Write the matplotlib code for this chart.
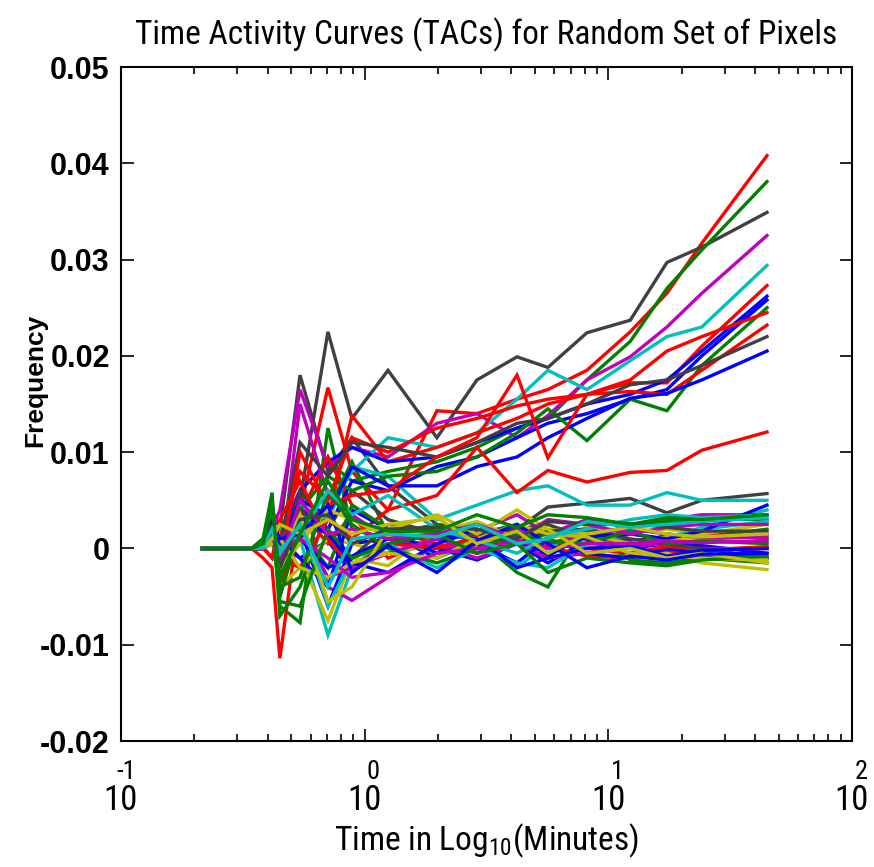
import matplotlib
matplotlib.use("Agg")
import matplotlib.pyplot as plt
from matplotlib import font_manager
from matplotlib.ticker import FixedLocator, LogLocator, NullFormatter

def pick(fams):
    for f in fams:
        try:
            font_manager.findfont(f, fallback_to_default=False)
            return f
        except Exception:
            pass
    return "DejaVu Sans"

NARROW = pick(["Liberation Sans Narrow", "Roboto Condensed", "DejaVu Sans Condensed", "Liberation Sans"])
WIDE = pick(["Liberation Sans", "DejaVu Sans"])
plt.rcParams["mathtext.fontset"] = "custom"
plt.rcParams["mathtext.rm"] = NARROW
plt.rcParams["mathtext.it"] = NARROW

# ---------------- data ----------------
time_min = [0.215, 0.280, 0.344, 0.383, 0.417, 0.449, 0.543, 0.707, 0.887, 1.247,
            1.98, 2.89, 4.22, 5.65, 8.17, 12.3, 17.4, 24.2, 44.8]

x_tick_values = [0.1, 1, 10, 100]
x_tick_exponents = ["-1", "0", "1", "2"]
y_tick_values = [-0.02, -0.01, 0.0, 0.01, 0.02, 0.03, 0.04, 0.05]
y_tick_labels = ["-0.02", "-0.01", "0", "0.01", "0.02", "0.03", "0.04", "0.05"]

# lower (flat) group
tac_l01 = [0, 0, 0, 0.0002, 0.0029, 0.0005, -0.0010, 0.0008, -0.0025, 0.0015, -0.0010, 0.0008, 0.0012, -0.0008, 0.0015, 0.0000, 0.0005, 0.0003, -0.0005]
tac_l02 = [0, 0, 0, 0.0010, 0.0058, -0.0060, -0.0077, 0.0125, 0.0020, 0.0010, -0.0005, 0.0010, -0.0025, -0.0040, 0.0025, 0.0000, 0.0015, 0.0012, 0.0020]
tac_l03 = [0, 0, 0, -0.0010, -0.0020, -0.0114, 0.0040, 0.0005, 0.0035, -0.0010, 0.0010, 0.0000, 0.0020, 0.0005, 0.0010, 0.0008, 0.0012, 0.0015, 0.0010]
tac_l04 = [0, 0, 0, 0.0003, 0.0020, -0.0030, 0.0010, -0.0090, -0.0020, 0.0012, -0.0005, 0.0015, -0.0020, 0.0005, 0.0000, 0.0015, 0.0010, 0.0022, 0.0040]
tac_l05 = [0, 0, 0, 0.0002, -0.0010, 0.0020, 0.0060, -0.0040, -0.0054, -0.0030, 0.0005, 0.0018, 0.0035, 0.0015, 0.0030, 0.0025, 0.0030, 0.0035, 0.0035]
tac_l06 = [0, 0, 0, 0.0001, 0.0025, 0.0015, -0.0010, -0.0075, -0.0010, -0.0018, 0.0020, 0.0010, 0.0005, 0.0010, 0.0022, 0.0018, 0.0020, 0.0015, 0.0025]
tac_l07 = [0, 0, 0, 0.0003, 0.0040, 0.0020, 0.0180, 0.0080, 0.0115, 0.0065, 0.0025, 0.0018, 0.0020, 0.0043, 0.0047, 0.0052, 0.0037, 0.0050, 0.0057]
tac_l08 = [0, 0, 0, 0.0001, 0.0015, 0.0000, 0.0020, -0.0060, 0.0005, 0.0010, 0.0000, -0.0012, 0.0005, -0.0015, 0.0008, -0.0005, -0.0003, -0.0008, -0.0010]
tac_l09 = [0, 0, 0, 0.0010, 0.0040, -0.0070, -0.0040, 0.0040, 0.0090, 0.0015, 0.0025, 0.0020, 0.0008, 0.0015, 0.0010, 0.0025, 0.0028, 0.0030, 0.0030]
tac_l10 = [0, 0, 0, 0.0000, 0.0030, -0.0050, 0.0035, 0.0095, 0.0045, 0.0020, 0.0005, -0.0005, 0.0010, 0.0002, -0.0008, -0.0010, -0.0004, -0.0002, 0.0002]
tac_l11 = [0, 0, 0, 0.0000, 0.0015, 0.0010, 0.0045, 0.0030, 0.0085, 0.0075, 0.0030, 0.0045, 0.0060, 0.0065, 0.0045, 0.0045, 0.0058, 0.0050, 0.0050]
tac_l12 = [0, 0, 0, 0.0002, 0.0010, -0.0020, 0.0150, 0.0055, 0.0035, 0.0010, 0.0003, -0.0010, 0.0005, -0.0010, -0.0005, 0.0002, 0.0005, -0.0002, 0.0000]
tac_l13 = [0, 0, 0, 0.0000, 0.0010, -0.0040, -0.0020, 0.0010, 0.0005, -0.0005, 0.0010, 0.0020, 0.0010, 0.0025, 0.0005, -0.0010, -0.0005, -0.0015, -0.0022]
tac_l14 = [0, 0, 0, 0.0002, 0.0035, -0.0010, 0.0060, 0.0020, 0.0060, 0.0030, 0.0015, 0.0010, 0.0020, 0.0025, 0.0010, 0.0008, 0.0012, 0.0010, 0.0015]
tac_l15 = [0, 0, 0, 0.0000, 0.0020, 0.0010, -0.0010, -0.0040, 0.0040, 0.0020, -0.0005, 0.0005, -0.0015, 0.0010, -0.0005, -0.0010, 0.0000, -0.0005, -0.0010]
tac_l16 = [0, 0, 0, 0.0005, 0.0020, -0.0050, 0.0020, -0.0020, 0.0045, 0.0020, 0.0010, 0.0015, 0.0025, -0.0005, 0.0018, -0.0012, -0.0015, -0.0010, -0.0015]
tac_l17 = [0, 0, 0, 0.0000, -0.0010, 0.0030, 0.0070, 0.0010, -0.0020, 0.0005, 0.0000, 0.0012, 0.0005, 0.0008, 0.0000, -0.0005, 0.0002, 0.0000, 0.0000]
tac_l18 = [0, 0, 0, 0.0002, 0.0010, -0.0020, 0.0030, -0.0060, -0.0010, 0.0005, -0.0020, 0.0000, -0.0015, -0.0020, 0.0005, 0.0005, 0.0012, 0.0020, 0.0028]
tac_l19 = [0, 0, 0, 0.0000, 0.0005, 0.0010, 0.0025, -0.0030, -0.0020, -0.0005, 0.0010, -0.0005, 0.0020, 0.0005, 0.0015, 0.0020, 0.0015, 0.0010, 0.0012]
tac_l20 = [0, 0, 0, 0.0002, 0.0015, -0.0020, 0.0005, 0.0040, 0.0030, 0.0012, 0.0018, 0.0028, 0.0010, 0.0020, 0.0015, 0.0005, 0.0012, 0.0008, 0.0005]
tac_l21 = [0, 0, 0, 0.0000, 0.0020, 0.0000, 0.0040, 0.0015, -0.0010, 0.0025, 0.0018, 0.0015, 0.0005, 0.0018, 0.0020, 0.0010, 0.0005, 0.0000, -0.0010]
tac_l22 = [0, 0, 0, 0.0001, 0.0010, -0.0010, 0.0030, 0.0015, -0.0015, -0.0025, 0.0005, 0.0020, 0.0008, -0.0005, 0.0012, 0.0015, 0.0010, 0.0018, 0.0045]
tac_l23 = [0, 0, 0, 0.0008, 0.0030, -0.0040, -0.0030, 0.0060, 0.0025, 0.0000, -0.0015, 0.0000, 0.0015, 0.0008, 0.0005, 0.0018, 0.0005, 0.0008, 0.0005]
tac_l24 = [0, 0, 0, 0.0000, 0.0005, 0.0010, -0.0020, -0.0030, -0.0015, -0.0005, -0.0010, 0.0010, 0.0025, 0.0015, 0.0012, -0.0005, -0.0008, -0.0010, -0.0012]
tac_l25 = [0, 0, 0, 0.0000, 0.0025, 0.0000, 0.0010, -0.0020, -0.0008, 0.0010, 0.0015, 0.0010, -0.0020, -0.0010, 0.0000, 0.0003, -0.0008, -0.0002, 0.0000]
tac_l26 = [0, 0, 0, 0.0000, 0.0010, 0.0000, 0.0010, -0.0010, -0.0030, -0.0025, -0.0005, 0.0000, 0.0008, 0.0000, 0.0005, 0.0005, 0.0008, 0.0006, 0.0008]
tac_l27 = [0, 0, 0, 0.0000, 0.0010, 0.0000, 0.0015, 0.0060, 0.0035, 0.0055, 0.0020, 0.0008, -0.0005, 0.0012, 0.0020, 0.0030, 0.0035, 0.0032, 0.0035]
tac_l28 = [0, 0, 0, 0.0006, 0.0035, -0.0055, -0.0060, 0.0020, -0.0010, 0.0005, 0.0015, -0.0005, 0.0005, -0.0025, -0.0010, -0.0015, -0.0018, -0.0012, -0.0008]
tac_l29 = [0, 0, 0, 0.0002, 0.0020, -0.0010, 0.0035, -0.0055, -0.0040, 0.0020, 0.0035, 0.0015, 0.0040, 0.0020, -0.0005, 0.0000, -0.0010, -0.0005, -0.0015]
tac_l30 = [0, 0, 0, 0.0001, 0.0027, 0.0010, 0.0015, 0.0045, -0.0025, 0.0003, -0.0025, 0.0008, 0.0025, 0.0005, -0.0020, -0.0008, -0.0012, -0.0006, -0.0005]
tac_l31 = [0, 0, 0, 0.0001, 0.0015, -0.0015, 0.0050, 0.0015, 0.0020, 0.0010, 0.0015, 0.0025, 0.0010, 0.0030, 0.0025, 0.0015, 0.0022, 0.0025, 0.0025]
tac_l32 = [0, 0, 0, 0.0002, 0.0025, -0.0020, 0.0030, 0.0035, 0.0005, 0.0020, 0.0022, 0.0020, 0.0010, 0.0028, 0.0025, 0.0026, 0.0022, 0.0018, 0.0018]
tac_l33 = [0, 0, 0, 0.0001, 0.0010, 0.0025, 0.0015, 0.0030, 0.0015, 0.0025, 0.0032, 0.0005, 0.0018, -0.0005, 0.0015, 0.0022, 0.0015, 0.0012, 0.0015]
tac_l34 = [0, 0, 0, 0.0001, 0.0020, -0.0005, 0.0025, -0.0040, 0.0010, 0.0015, 0.0012, 0.0025, 0.0005, 0.0010, 0.0028, 0.0022, 0.0025, 0.0028, 0.0032]
tac_l35 = [0, 0, 0, 0.0005, 0.0045, -0.0030, 0.0015, 0.0070, 0.0030, 0.0018, 0.0018, 0.0035, 0.0022, 0.0035, 0.0032, 0.0025, 0.0032, 0.0030, 0.0035]

# upper (rising) group
tac_u01 = [0, 0, 0, 0.0005, 0.0020, -0.0020, 0.0040, 0.0167, 0.0080, 0.0040, 0.0143, 0.0140, 0.0155, 0.0165, 0.0185, 0.0225, 0.0265, 0.0317, 0.0408]
tac_u02 = [0, 0, 0, 0.0000, 0.0010, 0.0020, 0.0050, 0.0225, 0.0135, 0.0185, 0.0115, 0.0175, 0.0199, 0.0188, 0.0224, 0.0237, 0.0297, 0.0313, 0.0349]
tac_u03 = [0, 0, 0, 0.0010, 0.0050, -0.0040, 0.0060, 0.0090, 0.0070, 0.0080, 0.0090, 0.0105, 0.0125, 0.0135, 0.0175, 0.0215, 0.0270, 0.0310, 0.0381]
tac_u04 = [0, 0, 0, 0.0000, 0.0020, 0.0040, 0.0165, 0.0085, 0.0105, 0.0095, 0.0130, 0.0140, 0.0115, 0.0138, 0.0175, 0.0199, 0.0230, 0.0265, 0.0325]
tac_u05 = [0, 0, 0, 0.0000, 0.0010, 0.0020, 0.0030, 0.0040, 0.0080, 0.0115, 0.0105, 0.0120, 0.0155, 0.0185, 0.0165, 0.0195, 0.0220, 0.0230, 0.0294]
tac_u06 = [0, 0, 0, 0.0000, 0.0010, -0.0030, 0.0020, 0.0030, 0.0138, 0.0090, 0.0105, 0.0120, 0.0135, 0.0150, 0.0160, 0.0172, 0.0172, 0.0210, 0.0273]
tac_u07 = [0, 0, 0, 0.0000, 0.0010, 0.0000, 0.0060, 0.0090, 0.0105, 0.0090, 0.0095, 0.0110, 0.0125, 0.0135, 0.0150, 0.0160, 0.0175, 0.0205, 0.0262]
tac_u08 = [0, 0, 0, 0.0000, 0.0020, 0.0010, 0.0040, 0.0020, 0.0070, 0.0060, 0.0085, 0.0095, 0.0115, 0.0130, 0.0140, 0.0155, 0.0165, 0.0200, 0.0258]
tac_u09 = [0, 0, 0, 0.0000, 0.0020, -0.0030, 0.0040, 0.0075, 0.0060, 0.0075, 0.0080, 0.0095, 0.0120, 0.0145, 0.0112, 0.0155, 0.0143, 0.0190, 0.0250]
tac_u10 = [0, 0, 0, 0.0000, 0.0010, 0.0010, 0.0080, 0.0050, 0.0115, 0.0100, 0.0125, 0.0135, 0.0148, 0.0155, 0.0160, 0.0163, 0.0160, 0.0185, 0.0232]
tac_u11 = [0, 0, 0, 0.0003, 0.0030, 0.0000, 0.0110, 0.0075, 0.0110, 0.0105, 0.0095, 0.0110, 0.0130, 0.0135, 0.0150, 0.0170, 0.0175, 0.0190, 0.0220]
tac_u12 = [0, 0, 0, 0.0000, 0.0010, 0.0000, 0.0050, 0.0035, 0.0085, 0.0065, 0.0065, 0.0085, 0.0095, 0.0115, 0.0135, 0.0156, 0.0161, 0.0175, 0.0205]
tac_u13 = [0, 0, 0, 0.0000, 0.0015, -0.0020, 0.0100, 0.0045, 0.0055, 0.0060, 0.0095, 0.0115, 0.0180, 0.0094, 0.0160, 0.0175, 0.0205, 0.0220, 0.0245]
tac_u14 = [0, 0, 0, 0.0000, 0.0005, -0.0010, -0.0020, 0.0030, 0.0010, 0.0040, 0.0055, 0.0105, 0.0058, 0.0081, 0.0069, 0.0079, 0.0081, 0.0102, 0.0121]

# MATLAB-style colour cycle b, g, r, c, m, y, k
C_B, C_G, C_R, C_C, C_M, C_Y, C_K = "#0000FF", "#008000", "#FF0000", "#00BFBF", "#BF00BF", "#BFBF00", "#404040"

series = [
    (tac_l01, C_B), (tac_l02, C_G), (tac_l03, C_R), (tac_l04, C_C), (tac_l05, C_M), (tac_l06, C_Y), (tac_l07, C_K),
    (tac_u01, C_R), (tac_u02, C_K), (tac_u03, C_G), (tac_u04, C_M), (tac_u05, C_C), (tac_u06, C_R), (tac_u07, C_B),
    (tac_l08, C_B), (tac_l09, C_G), (tac_l10, C_R), (tac_l11, C_C), (tac_l12, C_M), (tac_l13, C_Y), (tac_l14, C_K),
    (tac_u08, C_B), (tac_u09, C_G), (tac_u10, C_R), (tac_u11, C_K), (tac_u12, C_B), (tac_u13, C_R), (tac_u14, C_R),
    (tac_l15, C_B), (tac_l16, C_G), (tac_l17, C_R), (tac_l18, C_C), (tac_l19, C_M), (tac_l20, C_Y), (tac_l21, C_K),
    (tac_l22, C_B), (tac_l23, C_G), (tac_l24, C_Y), (tac_l25, C_B), (tac_l26, C_M), (tac_l27, C_C),
    (tac_l28, C_G), (tac_l29, C_Y), (tac_l30, C_B), (tac_l31, C_M), (tac_l32, C_K), (tac_l33, C_Y),
    (tac_l34, C_C), (tac_l35, C_G),
]

# ---------------- figure ----------------
fig = plt.figure(figsize=(8.74, 8.67), dpi=100)
ax = fig.add_axes([0.1384, 0.1453, 0.8364, 0.7774])

for vals, col in series:
    ax.plot(time_min, vals, color=col, lw=2.4, solid_joinstyle="miter")

ax.set_xscale("log")
ax.set_xlim(0.1, 100)
ax.set_ylim(-0.02, 0.05)

ax.yaxis.set_major_locator(FixedLocator(y_tick_values))
ax.set_yticklabels(y_tick_labels, fontsize=22, fontweight="bold", family=WIDE)

ax.xaxis.set_major_locator(FixedLocator(x_tick_values))
ax.xaxis.set_minor_locator(LogLocator(base=10, subs=range(2, 10)))
ax.xaxis.set_minor_formatter(NullFormatter())
ax.set_xticklabels(["10"] * len(x_tick_values), fontsize=25, family=NARROW)

ax.tick_params(axis="both", which="both", direction="in", top=True, right=True, width=1.2)
ax.tick_params(axis="both", which="major", length=9)
ax.tick_params(axis="x", which="minor", length=5)
ax.tick_params(axis="x", which="major", pad=31)
ax.tick_params(axis="y", which="major", pad=8)
for s in ax.spines.values():
    s.set_linewidth(1.5)

for xv, ex in zip(x_tick_values, x_tick_exponents):
    ax.annotate(ex, xy=(xv, 0), xycoords=("data", "axes fraction"),
                xytext=(11, -22), textcoords="offset points", ha="right", va="center",
                fontsize=19, family=NARROW)

ax.set_title("Time Activity Curves (TACs) for Random Set of Pixels", fontsize=24,
             family=NARROW, pad=16)
ax.set_xlabel("Time in Log$_{10}$(Minutes)", fontsize=24, family=NARROW)
ax.xaxis.set_label_coords(0.5, -0.12)
ax.set_ylabel("Frequency", fontsize=19, fontweight="bold", family=WIDE)
ax.yaxis.set_label_coords(-0.101, 0.535)

fig.savefig("out.png", dpi=100)
